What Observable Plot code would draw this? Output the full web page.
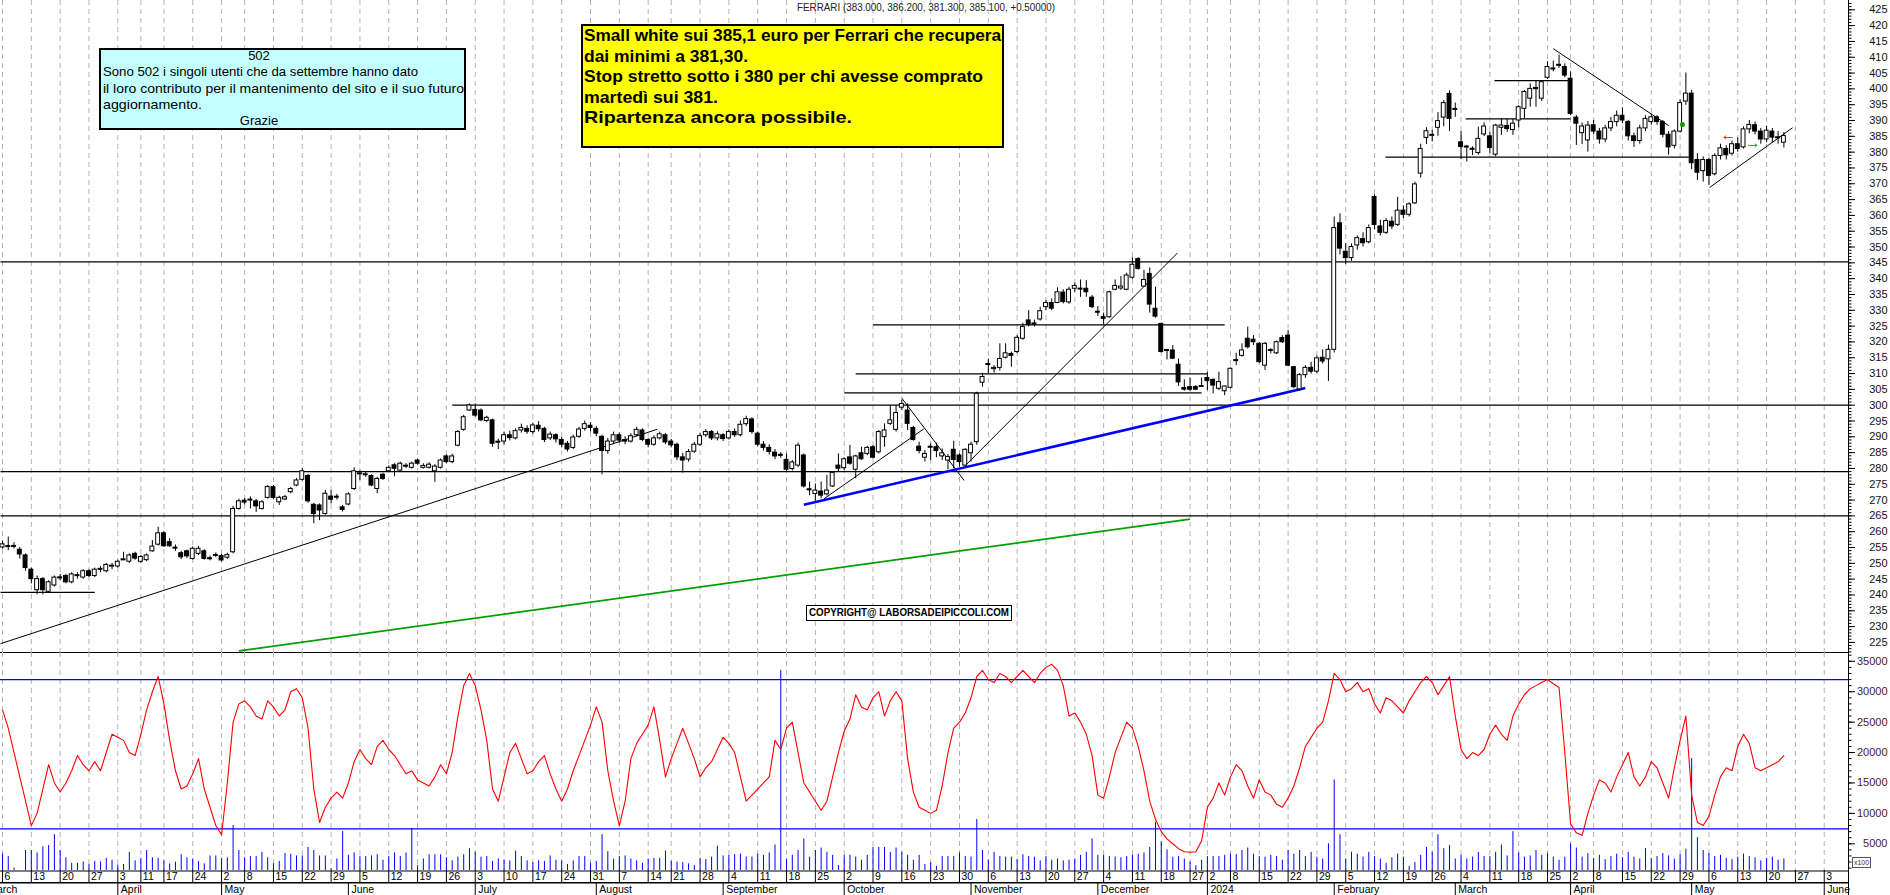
<!DOCTYPE html>
<html><head><meta charset="utf-8">
<script src="https://cdn.jsdelivr.net/npm/d3@7"></script>
<script src="https://cdn.jsdelivr.net/npm/@observablehq/plot@0.6"></script>
<style>
body{margin:0;background:#fff;}
#wrap{position:relative;width:1890px;height:895px;overflow:hidden;font-family:"Liberation Sans",Arial,sans-serif;background:#fff;}
</style></head><body><div id="wrap"></div>
<script>
// ---------- DATA ----------
const startDate = "2023-03-01";           // calendar starts here; candle 0 = 2023-03-06
const endDate = "2024-06-07";
const holidays = ["2023-04-07","2023-04-10","2023-05-01","2023-08-15","2023-12-25","2023-12-26","2024-01-01","2024-03-29","2024-04-01"];

const O = [
255,255.3,255.5,254.3,252.5,248,241.5,245,241,243,
245.5,246,244,246,245.5,247.5,246,248,247.5,249,
249,251,250.5,253,250.5,251,253.8,255.9,259.5,256.7,
254.8,253.2,253.8,251.4,253,253.8,251.5,252.5,252.3,251.8,
253.5,267.2,269.8,270,269.6,267.2,270.7,274.1,269.3,270.2,
272.5,274.6,276.4,277.6,268.5,268.3,265.6,271.1,270.9,267.7,
268.6,273.5,278.3,278,277.6,273.5,278,279.1,281,279.3,
280.7,280.2,282.5,280.2,280.2,279.1,280.2,283.8,282,287.2,
292.2,298.3,298.5,298.3,295,295.2,288.3,288.5,290.5,289.5,
292,292.5,291.5,293.5,292.5,289.5,290.5,289,287.8,286.5,
290,292.5,293.5,292.5,290,285.5,288.5,290.5,289,288.5,
290.5,292,289,287.5,289.5,290.5,288.5,287.5,283.5,282.8,
285.3,287.5,290.5,291.5,289.5,290.5,289.5,291.5,290.5,294,
295.5,291,287.5,286.5,285,284.3,282.7,279.8,280.9,284.1,
273.4,271.9,272.7,271.8,274.3,280.9,280.1,283.5,279.6,284.8,
284.6,286.7,285.1,289.9,294.1,292.2,299.2,298.3,292.8,286.9,
283.4,286.8,286.7,283.8,282.5,285.9,284.1,280.9,284.8,288.3,
307.1,312.7,311.4,311.8,315,316.2,316.8,321,326.8,325.8,
327.1,331,332.3,332.3,335.6,332.5,336.8,336.8,336.8,334,
329.5,327.8,327.8,336.5,336.9,336.5,340.3,346.2,337.5,341.5,
330.5,325.7,317.4,317.3,312.8,305.4,305.7,305.7,305.8,308.6,
308,305.2,304.4,305.5,314,315.6,321,320.7,319.4,312.5,
317.4,316.4,321.2,322,312,305,309.5,311.8,310.6,315,
314.5,317.5,357.5,348.5,346.5,350.5,352.5,351.5,365.8,356.5,
354.5,358,357,361.5,360.2,363.8,373.2,384.5,385.3,387.7,
390.9,398.4,393.5,383.1,381.6,380.9,379.7,385.6,385,379.2,
387.7,388.3,387,390,393.7,396.9,400.3,396.9,403.5,406.3,
407.4,406.9,403.2,390.9,386,383.7,388.5,386.5,384,387.5,
389.5,391.5,389.5,385,383.5,387.5,389.5,391,389.5,385.5,
382,386.5,396,398.5,377.5,374,377.5,373,378.8,381,
379.5,382.5,381.5,387.2,388.5,386.5,384,386.5,384.5,383];

const H = [
257,258.3,256.5,255,253,248.5,246,245.5,244.5,246,
246.5,246.5,247,247,248,248,248.5,249,250,250,
251,253.5,253,253.5,252.5,253,257.2,261.4,260,257.8,
255.8,253.8,254.2,255.2,255.3,254.3,252.3,253.3,252.8,253.2,
268,270.3,270.5,271,270.2,269.8,274.6,274.6,271.2,271.5,
274,276.8,280,278.2,269,268.8,273,273,271.8,268.3,
272.3,280.2,279.3,278.8,278,277.2,278.5,280.8,281.5,282,
281.5,282,283,281.5,281.8,281.2,283,284.3,284.5,292,
296.8,300.4,300.4,298.8,296.5,295.6,289.3,291.5,291.8,292.5,
294,293.5,294.3,294.8,293,291.5,291,289.8,288.5,290.5,
293,295,294.5,293.3,290.5,289.5,291.5,291.2,290,291,
293,292.5,289.5,290.3,291.5,291,289.2,288,284.8,286,
288.2,291,292.3,292,291.6,291,292.2,292.5,295,296.5,
296,291.5,288.5,287.5,286,285,284.6,282.5,288,284.6,
275.7,275.1,275.7,277.8,279,284.6,283.4,287.3,284.2,286.7,
287,287.2,292,294.1,299.9,299.9,301.5,300.4,293.3,288.3,
285.7,287.8,288,286.2,284.4,288.6,284.6,286.2,288.3,304.1,
310.1,314.6,312.5,319.4,319.4,316.8,322,325.9,329.9,326.9,
331,333.1,333.6,337.1,336.5,337.3,338.6,339.6,339.4,334.7,
331.2,329.1,336,339.6,340.7,341.7,346.6,346.6,342.6,343.4,
337.3,325.9,317.6,318.9,314.6,308,308.6,306.2,308.6,310.4,
308.3,310.4,306,311.8,316.4,319.4,324.7,322,319.8,319.8,
317.8,320.3,322,323.6,312.3,310,312.5,313.5,315.5,317.5,
319,359.5,360.5,351,351,353.5,354.5,357,366.5,358.5,
359,359.5,365.7,363,364,370.5,382.5,387.7,386.9,392.5,
396.3,399.4,395.5,386.5,382.1,381.7,387.9,389.3,386.3,388.8,
390.4,390.4,390.4,394.7,399.5,401.6,402.6,402.6,408.6,408.8,
410.7,407.9,405.4,391.6,389.2,389.7,390,387.5,388.5,391,
393,394,390,386,388.5,391.5,392,391.5,390,386.5,
387,396.5,405,399.5,379.5,378.5,378,379.5,382.5,382,
383.5,384.5,388,390,389.5,387.5,388.2,387.5,386.5,386.2];

const L = [
254.5,254,254.5,251.4,247.5,243.5,240,240,240.5,242.5,
244.5,243.5,243.5,245,245,245.5,245.5,247,247,248,
248.5,250.9,250,251,250,250.5,253.5,255.5,255,255,
253.8,251.2,251.5,251,252.5,251,250.8,251.8,250.4,251.3,
253,266.8,268.5,267.2,266.1,266.8,270.3,270.2,268.3,269.8,
272,274.2,276,269,262.5,263.5,265.2,268.8,270,266.2,
268.2,273,276.2,277.2,274.2,272,276.2,278.7,277.4,279,
280,279.8,281,279.8,279.8,275.6,279.8,281.5,281.5,286.8,
291.8,298,296.2,294.8,294.5,286.7,286,287.5,288.7,289,
291.2,290.8,290.8,291.5,288.2,288.8,288,286.5,285.2,286,
289.5,291.8,291.5,290,278,284.5,287.5,288,287.5,288,
290,288.5,286.5,287,289,287.5,286.5,282.5,278.5,282,
284.8,287,289.8,288.8,288.7,288.5,289,289.8,290,293.2,
290.8,286.8,285.5,284.2,282.8,283.2,279,279.2,280.3,273.8,
271.4,269.6,270.4,271.3,274,278.8,279.3,281,276.7,282.5,
284,283,284.6,286.7,293.6,291.5,298.3,292,288.6,284.6,
282,282.5,283.4,282.5,279.6,279.9,280.4,280.4,282,287.3,
305.7,309.9,310.1,310.8,314.6,312,316.3,320.5,324.7,324.7,
326.6,329.9,329.9,332.1,332,331.9,335.7,334.1,334.1,330.5,
328,325.5,327.5,336.2,336.3,336.2,339.8,342.7,337.3,329.1,
327.5,316.5,314.3,314.4,305.9,304.4,304.4,304.6,305.6,304.6,
303.6,304.6,303,305.1,312.5,315.2,317.8,318.9,313.2,311,
316.2,316,319.5,312.1,305.2,304.4,308.5,309.8,310,313,
307.5,316.5,347.5,344.5,345.5,349,350,351,355.5,353.5,
354,355.5,356.5,359,359.5,363.5,371.8,382.4,383.2,385,
388,386.5,391,377.6,376.9,378.9,379,384.9,379.5,378.5,
385.3,386.3,385.3,387.7,390.5,394.2,394.2,396,403,405.4,
406.5,403.5,391.5,382.1,382.4,380,385.5,382.5,383,386.5,
388,389,383.5,381.5,382.5,386.5,388.5,388.5,384.5,379,
381,386,394.8,374.5,371,370.5,369.5,372.5,377.5,377.5,
378.8,380,381,385.8,385.5,382.5,383,382.8,382.5,381.3];

const C = [
256,255.3,255.2,252.8,248.5,245,245,241.5,244,245.5,
245.3,244,246.5,246.2,247.5,246,248,248.2,249.5,249.2,
250.5,251.2,252.5,251.5,252,252.5,255.3,259.5,255.4,255.4,
254.8,251.9,252.2,254.6,254.6,251.4,251.4,252.5,250.9,252.6,
267.2,269.6,269.2,270,268,269.3,274.1,270.7,270.7,270.9,
273.5,276.2,279.1,269.6,265.6,266.7,272,270.1,270.9,266.9,
271.8,279.1,278.3,278,274.6,276.7,276.7,280.2,279.9,281.5,
280.7,281.5,281.5,280.8,281.2,280.6,282.5,282,283.8,291.5,
296.2,299.9,296.7,295.2,296,287.8,288.3,290.5,289.6,291.8,
292.8,291.6,293.6,292.4,289,290.7,289.2,287.5,286,289.8,
292.3,294,292.8,291,285.5,288.5,290.5,288.8,288.5,290.2,
292.2,289,287.5,289.5,290.8,288.2,287.3,283.5,282.5,285.2,
287.5,290.2,291.5,289.5,290.8,289.3,291.5,290.5,293.8,295.6,
291.5,287.5,286.5,285.2,283.8,284,279.6,281.9,287.2,274.3,
273.1,273,271.4,273,278.6,279.9,282.9,281.5,283.8,282.9,
286.5,283.4,291.5,292,295.2,297.5,300.4,294.1,289,285.5,
284.6,286.6,285.5,284.8,283.6,282.7,282,285.9,287.5,303.6,
308.9,313,311.8,314.6,316.4,315.6,321.3,324.7,325.4,325.6,
329.7,332.3,330.5,335.7,332.6,336.5,337.7,336.6,335.7,331,
329.3,327.3,335.7,337.7,337.5,341,344.4,343.1,339.6,331.8,
328,316.8,317.2,314.7,307.2,304.9,304.9,304.9,306,307.6,
306.2,307.3,305.9,311.5,314.2,317.3,318.3,319.9,313.6,319.4,
317.2,319.9,319.9,312.5,305.7,309.5,311.8,310.6,314.8,313.8,
317.5,356,349.5,346.5,350,352.8,351.2,356,357,354.5,
358.2,356.5,361.5,360.2,363.5,369.8,381,386.6,385.3,389.8,
395.5,390.5,393.5,381.6,381.6,380.9,384.2,388.1,381.3,388.4,
388.4,387.3,389,394.2,399,400,399.9,402.1,406.9,406.3,
407.5,404.2,392.1,389,388.1,388.4,386.5,384,387.5,389.5,
391.5,390,385,383.5,387.5,390.5,391,389.5,385.5,381.5,
386.5,395.5,398.5,376.5,373.5,377.5,372.5,378.8,381.2,379,
382.5,381,387.2,388.6,386.5,384,386.8,384.6,384.6,385.1];

// volume (thousands, axis units x100)
const VOL = [
3.3,2.9,1.0,0.2,3.9,3.9,3.5,4.5,4.7,6.5,
3.9,2.7,1.8,1.8,2.0,1.6,2.1,2.0,2.6,2.3,
1.5,1.6,3.6,2.2,2.6,3.9,2.7,2.6,2.2,1.7,
2.0,3.2,2.7,2.5,2.1,1.7,3.0,3.0,2.6,2.7,
8.0,3.9,2.7,2.9,2.9,3.6,2.7,1.7,2.1,3.4,
3.3,3.0,3.0,4.4,3.9,3.0,3.0,0.9,2.5,7.0,
3.1,3.5,2.9,2.9,3.0,3.2,2.3,2.9,3.5,2.9,
3.5,7.5,1.4,2.5,3.2,3.2,3.2,2.7,2.2,2.8,
3.2,4.2,3.6,2.8,2.9,2.1,2.5,2.3,2.2,3.8,
2.9,2.2,1.9,2.2,2.1,3.0,2.3,2.2,1.6,2.2,
2.9,2.9,1.8,2.1,6.5,3.7,2.5,2.9,3.0,2.5,
2.2,1.8,2.5,2.6,2.6,3.8,2.1,2.0,1.9,1.7,
1.4,2.6,2.4,2.8,4.6,3.0,3.1,3.2,3.3,2.8,
2.8,3.3,3.1,3.5,4.8,33.5,2.5,3.1,3.9,5.8,
2.8,3.9,4.3,3.6,3.1,1.4,3.1,3.1,2.8,2.3,
3.1,4.4,4.4,4.4,3.6,4.3,3.6,3.1,2.3,3.1,
1.6,1.9,1.3,2.9,2.9,2.9,3.5,2.9,2.8,9.0,
3.9,2.3,3.6,2.9,2.8,2.8,2.4,3.2,2.9,2.8,
2.2,2.9,2.3,2.5,2.2,2.3,2.5,3.1,3.6,5.8,
3.1,3.1,2.9,2.8,2.7,2.9,3.1,3.3,3.5,4.4,
8.5,5.3,4.0,2.8,2.9,2.5,2.0,1.4,2.3,2.9,
2.9,2.9,3.1,3.3,3.2,3.9,4.3,3.3,2.9,2.8,
3.1,2.9,2.3,3.9,3.3,3.9,2.9,3.6,2.8,2.5,
5.0,15.5,6.5,2.5,3.6,3.3,2.8,3.6,2.9,2.5,
1.8,2.7,3.3,2.8,1.3,1.9,3.1,4.4,3.6,6.5,
4.2,4.7,2.5,3.1,2.5,2.8,3.6,2.9,2.9,3.6,
4.8,3.0,7.0,3.5,2.8,3.0,3.9,3.1,3.4,2.8,
2.3,2.8,5.0,4.3,2.8,3.4,2.6,3.1,2.4,2.9,
3.3,2.7,3.6,2.8,2.5,4.2,2.6,2.9,3.4,3.0,
2.5,3.2,4.1,19.0,6.0,3.9,3.4,2.9,3.1,2.6,
2.4,2.8,3.3,2.9,2.7,2.2,2.6,2.8,2.3,2.5];

// red oscillator line (thousands)
const OSC = [
27,24,20,16,12,8,10,14,18,15,
13.5,15,17,19.5,18,17,18.5,17,20,23,
22.5,22,20,19.5,23,27,30,32.5,28,22,
17,14,14.5,16.5,19,14,11,8,6.5,15,
25,28,28.5,27.5,26,25.5,28.5,27.5,26,27,
30,30.5,29,24,14,8.5,11,12.5,13.5,12.5,
15,18.5,20.5,19,18,21,22,20.5,19.5,18,
16.5,17,15.5,15,14.5,16,18,16.5,20,26,
31,33,31,27,22,14,12,16,20,21.5,
19,16.5,17,18.5,19.5,16.5,14,12,14,17,
19.5,22,24.5,27.5,25,17,12,8,12,19,
21.5,23,24.5,27.5,22,16,19,21.5,24,21.5,
19,16,17.5,18.5,20.5,22.5,21.5,20,16,12,
13,14,15,16,22,20.5,24,25,20,15,
13.5,12,10.5,12,16,20,23.5,25.5,29.5,27.5,
27,29,30,26,28.5,30,28.5,19,13.5,11,
10.5,10,10.5,14.5,20,24,25,26.5,29,32.5,
33.5,32,31.5,33,32.5,31.5,32.5,33.5,32.5,31.5,
33,34,34.5,33.5,31,26,26.5,25,23,19.5,
13,12.5,16,20,22.5,25,24,21,17,12,
9,7,5.8,5,4.2,3.7,3.6,3.7,5.5,11,
12.5,15,13,16,18,17,14.5,12.5,15.5,13.5,
13,11.5,11,12.5,14.5,17.5,21,22.5,24,25,
28.5,33,32,30,30.5,31.5,30,30.5,28,26.5,
29,28.5,27.5,26.5,28.5,30,31.5,32.5,31.5,29.5,
31,32.5,26,20.5,19,20,19.5,20.5,23,24.5,
23,22,26,28,29.5,30.5,31,31.5,32,31.3,
30.7,20,8.3,6.8,6.4,10,13,15.5,15,13.5,
16,18,20,16,14.5,16,18.5,17.5,15,12.5,
17.5,22,26,13,8.5,8,9.5,13,16,17.5,
17,21,23,21.5,17.5,17,17.5,18,18.5,19.5];

// horizontal support / resistance levels [price, from candle, to candle]
const levelPrice = [345.3, 300, 279, 265, 240.8, 325.4, 309.9, 303.9, 402.6, 390.5, 378.4];
const levelFrom  = ["L", 78, "L", "L", "L", 151, 148, 146, 258.8, 253.8, 239.9];
const levelTo    = ["R", "R", "R", "R", 16, 212, 209, 208, 272, 272, 292.8];
// trend lines [candle1, price1, candle2, price2]
const trendLines = [
  ["L", 224.6, 113.6, 292.4, "black"],
  [142.5, 270.4, 159.8, 292.5, "black"],
  [156, 302.2, 166.8, 276.2, "black"],
  [167, 280.9, 203.8, 348.1, "black"],
  [269, 412.7, 289, 388.4, "black"],
  [296.1, 368.8, 310.5, 387.7, "black"],
  [139, 268.5, 226, 305.4, "blue"],
  [41, 222.3, 206, 264, "green"]
];
const priceTicks = d3.range(225, 426, 5);
const oscTicks = d3.range(5000, 35001, 5000);
const oscLevels = [32000, 7450];
const marksNotes = [{i: 299.4, p: 385.5, t: "←", c: "#ff0000"}, {i: 303.6, p: 383, t: "→", c: "#00a000"}];
const greenDot = [{i: 291.4, p: 388.7}];

// ---------- layout constants ----------
const PITCH = 5.765, X0 = -2 / PITCH, X1 = 1846 / PITCH;
const W = 1890, MR = 42;
const PMIN = 221.81, PMAX = 427.94;
const VMIN = 608, VMAX = 36446;
const FONT = "Liberation Sans, Arial, sans-serif";

// ---------- trading calendar ----------
const hol = new Set(holidays);
const fmt = d3.utcFormat("%Y-%m-%d");
const allDays = d3.utcDay.range(new Date(startDate + "T00:00Z"), new Date(endDate + "T00:00Z"))
  .filter(d => d.getUTCDay() > 0 && d.getUTCDay() < 6 && !hol.has(fmt(d)));
const OFFSET = allDays.findIndex(d => fmt(d) === "2023-03-06");
const weekTicks = [], monthTicks = [];
const monthName = d3.utcFormat("%B");
allDays.forEach((d, k) => {
  const i = k - OFFSET;
  if (i > X1) return;
  const prev = allDays[k - 1];
  if (!prev || +d3.utcMonday.floor(prev) !== +d3.utcMonday.floor(d)) weekTicks.push({i, label: String(d.getUTCDate())});
  if (!prev || prev.getUTCMonth() !== d.getUTCMonth()) monthTicks.push({i, label: d.getUTCMonth() === 0 ? String(d.getUTCFullYear()) : monthName(d)});
});
const weekLabels = weekTicks.filter(d => d.i >= 0);

const candles = O.map((o, i) => {
  const c = C[i];
  let top = Math.max(o, c), bot = Math.min(o, c);
  if (top - bot < 0.32) { const m = (top + bot) / 2; top = m + 0.16; bot = m - 0.16; }
  return {i, o, h: H[i], l: L[i], c, top, bot, up: c >= o};
});
const side = v => v === "L" ? X0 : v === "R" ? X1 : v;
const levels = levelPrice.map((p, k) => ({p, a: side(levelFrom[k]), b: side(levelTo[k])}));
const trends = trendLines.map(([a, p1, b, p2, c]) => ({a: side(a), p1, b, p2, c}));
const volRows = VOL.map((v, i) => ({i, v: v * 1000}));
const oscRows = OSC.map((v, i) => ({i, v: v * 1000}));
const minorPrice = d3.range(222, 428, 1);
const minorOsc = d3.range(1000, 36001, 1000);
const colorOf = {black: "#000", blue: "#0000ff", green: "#00a000"};
const widthOf = {black: 1, blue: 2.6, green: 1.8};

// ---------- price panel ----------
const pricePlot = Plot.plot({
  width: W, height: 653, marginLeft: 0, marginRight: MR, marginTop: 0, marginBottom: 1,
  x: {domain: [X0, X1], axis: null},
  y: {domain: [PMIN, PMAX], axis: null, label: null},
  style: {background: "transparent", fontFamily: FONT, overflow: "visible"},
  marks: [
    Plot.ruleX(weekTicks, {x: "i", stroke: "#b4b4b4", strokeDasharray: "5,4"}),
    Plot.link(levels, {x1: "a", x2: "b", y1: "p", y2: "p", stroke: "#000", strokeWidth: 1.2}),
    Plot.link(trends, {x1: "a", y1: "p1", x2: "b", y2: "p2", stroke: d => colorOf[d.c], strokeWidth: d => widthOf[d.c]}),
    Plot.ruleX(candles, {x: "i", y1: "l", y2: "h", stroke: "#000", strokeWidth: 1}),
    Plot.rect(candles, {x1: d => d.i - 0.34, x2: d => d.i + 0.34, y1: "bot", y2: "top", fill: d => d.up ? "#fff" : "#000", stroke: "#000", strokeWidth: 1}),
    Plot.dot(greenDot, {x: "i", y: "p", r: 2.5, fill: "#00a000"}),
    Plot.text(marksNotes, {x: "i", y: "p", text: "t", fill: "c", fontSize: 16, fontWeight: "bold"}),
    Plot.ruleY([PMIN], {stroke: "#000"}),
    Plot.ruleX([X1], {stroke: "#000"}),
    Plot.ruleY(priceTicks, {y: d => d, x1: X1, x2: X1 + 7 / PITCH, stroke: "#000"}),
    Plot.ruleY(minorPrice, {y: d => d, x1: X1, x2: X1 + 3.5 / PITCH, stroke: "#000"}),
    Plot.text(priceTicks, {y: d => d, text: d => String(d), frameAnchor: "right", textAnchor: "end", dx: 39, fontSize: 11, fill: "#111"})
  ]
});

// ---------- indicator panel ----------
const oscPlot = Plot.plot({
  width: W, height: 218, marginLeft: 0, marginRight: MR, marginTop: 0, marginBottom: 0,
  x: {domain: [X0, X1], axis: null},
  y: {domain: [VMIN, VMAX], axis: null, label: null},
  style: {background: "transparent", fontFamily: FONT, overflow: "visible"},
  marks: [
    Plot.ruleX(weekTicks, {x: "i", stroke: "#b4b4b4", strokeDasharray: "5,4"}),
    Plot.ruleY(oscLevels, {x1: X0, x2: X1, stroke: "#0000ff", strokeWidth: 1.2}),
    Plot.ruleX(volRows, {x: "i", y1: VMIN, y2: "v", stroke: "#0000ff", strokeWidth: 1, clip: true}),
    Plot.line(oscRows, {x: "i", y: "v", stroke: "#ff0000", strokeWidth: 1.1, clip: true}),
    Plot.ruleX([X1], {stroke: "#000"}),
    Plot.ruleY(oscTicks, {y: d => d, x1: X1, x2: X1 + 7 / PITCH, stroke: "#000"}),
    Plot.ruleY(minorOsc, {y: d => d, x1: X1, x2: X1 + 3.5 / PITCH, stroke: "#000"}),
    Plot.text(oscTicks, {y: d => d, text: d => String(d), frameAnchor: "right", textAnchor: "end", dx: 39, fontSize: 11, fill: "#4a1c1c"})
  ]
});

// ---------- date axis ----------
const datePlot = Plot.plot({
  width: W, height: 25, marginLeft: 0, marginRight: MR, marginTop: 0, marginBottom: 0,
  x: {domain: [X0, X1], axis: null},
  y: {domain: [0, 25], range: [0, 25], axis: null, label: null},
  style: {background: "transparent", fontFamily: FONT, overflow: "visible"},
  marks: [
    Plot.ruleY([0.5], {x1: X0, x2: X1, stroke: "#000"}),
    Plot.ruleY([12.2], {x1: X0, x2: X1, stroke: "#000", strokeWidth: 1.6}),
    Plot.ruleX(weekTicks, {x: "i", y1: 0, y2: 12, stroke: "#000"}),
    Plot.text(weekLabels, {x: "i", y: 6.4, text: "label", textAnchor: "start", dx: 2, fontSize: 10.5, fill: "#000"}),
    Plot.ruleX(monthTicks, {x: "i", y1: 12, y2: 25, stroke: "#000"}),
    Plot.text(monthTicks, {x: "i", y: 19.2, text: "label", textAnchor: "start", dx: 3, fontSize: 10.5, fill: "#000"}),
    Plot.ruleX([X1], {y1: 0, y2: 25, stroke: "#000"})
  ]
});

const wrap = document.getElementById("wrap");
function place(el, top) { el.style.position = "absolute"; el.style.left = "0px"; el.style.top = top + "px"; wrap.appendChild(el); }
place(pricePlot, 0);
place(oscPlot, 652);
place(datePlot, 870);

// ---------- annotation boxes (real text) ----------
function box(x, y, w, h, css) {
  const b = document.createElement("div");
  b.style.cssText = `position:absolute;box-sizing:border-box;left:${x}px;top:${y}px;width:${w}px;height:${h}px;` + css;
  wrap.appendChild(b);
}
function line(txt, x, y, w, css, center) {
  const s = document.createElement("div");
  s.textContent = txt;
  s.style.cssText = `position:absolute;white-space:nowrap;left:${x}px;top:${y}px;` + css;
  wrap.appendChild(s);
  const bw = s.getBoundingClientRect().width;
  const ww = w || bw;
  s.style.transformOrigin = "0 0";
  s.style.transform = `scaleX(${ww / bw})`;
  if (center) s.style.left = (x - ww / 2) + "px";
}

// title
line("FERRARI (383.000, 386.200, 381.300, 385.100, +0.50000)", 797, 2, 258, "font-size:10px;line-height:12px;color:#222;");

// cyan box
box(99, 48, 367, 82, "background:#c4ffff;border:2px solid #000;");
const cy = "font-size:13px;line-height:15px;color:#000;";
line("502", 259, 48, null, cy, true);
line("Sono 502 i singoli utenti che da settembre hanno dato", 103, 64, 315, cy);
line("il loro contributo per il mantenimento del sito e il suo futuro", 103, 81, 361, cy);
line("aggiornamento.", 103, 97, 99, cy);
line("Grazie", 259, 113, null, cy, true);

// yellow box
box(581, 24, 423, 124, "background:#ffff00;border:2px solid #000;");
const yl = "font-size:17px;line-height:19px;font-weight:bold;color:#000;";
line("Small white sui 385,1 euro per Ferrari che recupera", 584, 26, 417, yl);
line("dai minimi a 381,30.", 584, 47, 164, yl);
line("Stop stretto sotto i 380 per chi avesse comprato", 584, 67, 399, yl);
line("martedì sui 381.", 584, 88, 134, yl);
line("Ripartenza ancora possibile.", 584, 108, 268, yl);

// copyright
box(806, 605, 206, 16, "background:#fff;border:1px solid #000;");
line("COPYRIGHT@ LABORSADEIPICCOLI.COM", 809, 606, 200, "font-size:10.5px;line-height:13px;font-weight:bold;color:#000;");

// x100 box
box(1852, 857, 19, 11, "background:#fff;border:1px solid #555;");
line("x100", 1854, 858, 15, "font-size:7px;line-height:9px;color:#333;");
</script>
</body></html>
